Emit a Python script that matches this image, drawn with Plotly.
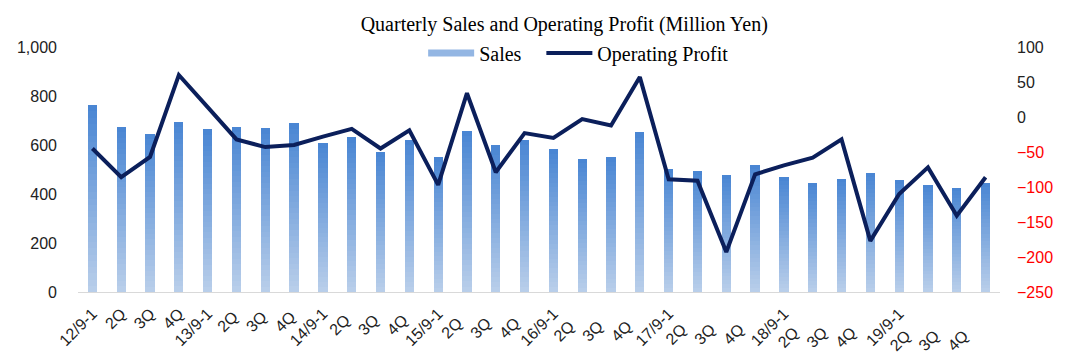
import plotly.graph_objects as go

categories = ["12/9-1", "2Q", "3Q", "4Q",
              "13/9-1", "2Q ", "3Q ", "4Q ",
              "14/9-1", "2Q  ", "3Q  ", "4Q  ",
              "15/9-1", "2Q   ", "3Q   ", "4Q   ",
              "16/9-1", "2Q    ", "3Q    ", "4Q    ",
              "17/9-1", "2Q     ", "3Q     ", "4Q     ",
              "18/9-1", "2Q      ", "3Q      ", "4Q      ",
              "19/9-1", "2Q       ", "3Q       ", "4Q       "]

sales = [763, 675, 645, 695, 664, 675, 669, 689,
         607, 631, 570, 620, 551, 657, 600, 620,
         582, 544, 551, 652, 501, 495, 476, 520,
         469, 444, 463, 487, 457, 438, 426, 444]

op_profit = [-45, -86, -57, 60, 14, -32, -43, -40,
             -28, -17, -45, -19, -97, 34, -79, -23,
             -30, -3, -12, 57, -89, -91, -193, -82,
             -69, -58, -32, -177, -110, -72, -141, -86]

left_ticks = [0, 200, 400, 600, 800, 1000]
left_ticktext = ["0", "200", "400", "600", "800", "1,000"]
right_ticks = [100, 50, 0, -50, -100, -150, -200, -250]

fig = go.Figure()

# Gradient bars: each bar split into stacked slices (light at bottom, dark at top)
N = 30
c_bot = (186, 207, 234)
c_top = (72, 133, 211)
for k in range(N):
    t = (k + 0.5) / N
    col = "rgb(%d,%d,%d)" % tuple(round(c_bot[i] + (c_top[i] - c_bot[i]) * t) for i in range(3))
    fig.add_trace(go.Bar(
        x=categories, y=[v / N for v in sales],
        marker=dict(color=col, line=dict(width=0)),
        width=0.32, showlegend=False, hoverinfo="skip", yaxis="y"))

# legend entry for Sales
fig.add_trace(go.Scatter(x=[None], y=[None], mode="lines", name="Sales\u00a0\u00a0\u00a0",
                         line=dict(color="#93B6E3", width=7), yaxis="y"))

fig.add_trace(go.Scatter(x=categories, y=op_profit, mode="lines", name="Operating Profit",
                         line=dict(color="#0B1F5B", width=4), yaxis="y2"))

right_text = []
for v in right_ticks:
    if v < 0:
        right_text.append('<span style="color:#FF0000">\u2212%d</span>' % (-v))
    else:
        right_text.append(str(v))

fig.update_layout(
    width=1078, height=358,
    margin=dict(l=70, r=86, t=39, b=74, autoexpand=False),
    paper_bgcolor="white", plot_bgcolor="white",
    barmode="stack", bargap=0.68,
    title=dict(text="Quarterly Sales and Operating Profit (Million Yen)",
               x=0.516, xanchor="center", y=0.955, yanchor="middle",
               font=dict(family="Liberation Serif", size=20, color="black")),
    legend=dict(orientation="h", x=0.543, xanchor="center",
                yref="container", y=0.874, yanchor="middle",
                font=dict(family="Liberation Serif", size=20, color="black"),
                bgcolor="rgba(0,0,0,0)", itemwidth=46, traceorder="normal"),
    xaxis=dict(type="category", tickangle=-45, showgrid=False,
               showline=True, linecolor="#D9D9D9", linewidth=1, ticks="",
               ticklabelstandoff=5,
               tickfont=dict(family="Liberation Sans", size=16, color="#222")),
    yaxis=dict(range=[0, 1000], tickvals=left_ticks, ticktext=left_ticktext,
               showgrid=False, zeroline=False, showline=False, ticks="",
               ticklabelstandoff=20,
               tickfont=dict(family="Liberation Sans", size=16, color="#222")),
    yaxis2=dict(range=[-250, 100], tickvals=right_ticks, ticktext=right_text,
                overlaying="y", side="right", showgrid=False, zeroline=False,
                showline=False, ticks="", ticklabelstandoff=16,
                tickfont=dict(family="Liberation Sans", size=16, color="#222")),
)

fig.write_html("out.html")
